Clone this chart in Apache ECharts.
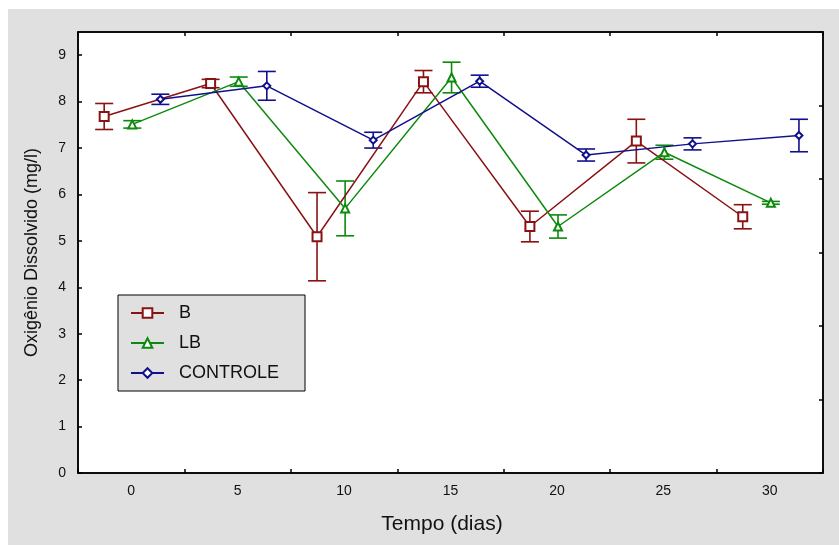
<!DOCTYPE html>
<html>
<head>
<meta charset="utf-8">
<script src="https://cdn.jsdelivr.net/npm/echarts@6/dist/echarts.min.js"></script>
<style>
html,body{margin:0;padding:0;background:#fff;}
#wrap{position:absolute;left:8px;top:9px;width:831px;height:536px;}
</style>
</head>
<body>
<div id="wrap"></div>
<script>
// ---- data ----
const days = [0, 5, 10, 15, 20, 25, 30];
const dayLabels = ['0', '5', '10', '15', '20', '25', '30'];
const yTickLabels = ['0', '1', '2', '3', '4', '5', '6', '7', '8', '9'];

const bMean   = [7.68, 8.39, 5.09, 8.43, 5.31, 7.15, 5.52];
const bErr    = [0.28, 0.09, 0.95, 0.24, 0.33, 0.47, 0.26];
const lbMean  = [7.51, 8.43, 5.70, 8.52, 5.31, 6.91, 5.82];
const lbErr   = [0.08, 0.10, 0.59, 0.33, 0.25, 0.15, 0.03];
const ctlMean = [8.05, 8.34, 7.17, 8.44, 6.85, 7.09, 7.27];
const ctlErr  = [0.11, 0.31, 0.17, 0.13, 0.13, 0.13, 0.35];

const seriesNames = ['B', 'LB', 'CONTROLE'];

// ---- styling ----
const FONT = 'Liberation Sans, Arial, sans-serif';
const colors = ['#8b1212', '#0d8a0d', '#10108c'];
const dodge = [-1.27, 0.05, 1.37];     // horizontal offset of each group (days)
const symbols = ['emptyRect', 'emptyTriangle', 'emptyDiamond'];
const symbolSizes = [9, 8, 7];

const means = [bMean, lbMean, ctlMean];
const errs = [bErr, lbErr, ctlErr];

function lineData(k) {
  return days.map((d, i) => [d + dodge[k], means[k][i]]);
}
function errData(k) {
  return days.map((d, i) => [d + dodge[k], means[k][i] - errs[k][i], means[k][i] + errs[k][i]]);
}

function makeErrSeries(k) {
  const col = colors[k];
  return {
    name: seriesNames[k] + ' err',
    type: 'custom',
    xAxisIndex: 2,
    yAxisIndex: 0,
    z: 2,
    silent: true,
    data: errData(k),
    encode: { x: 0, y: [1, 2] },
    renderItem: function (params, api) {
      const x = api.value(0);
      const lo = api.coord([x, api.value(1)]);
      const hi = api.coord([x, api.value(2)]);
      const hw = 9;
      const st = { stroke: col, lineWidth: 1.6 };
      return {
        type: 'group',
        children: [
          { type: 'line', shape: { x1: lo[0], y1: lo[1], x2: hi[0], y2: hi[1] }, style: st },
          { type: 'line', shape: { x1: lo[0] - hw, y1: lo[1], x2: lo[0] + hw, y2: lo[1] }, style: st },
          { type: 'line', shape: { x1: hi[0] - hw, y1: hi[1], x2: hi[0] + hw, y2: hi[1] }, style: st }
        ]
      };
    }
  };
}

function makeLineSeries(k) {
  return {
    name: seriesNames[k],
    type: 'line',
    xAxisIndex: 2,
    yAxisIndex: 0,
    z: 3,
    data: lineData(k),
    symbol: symbols[k],
    symbolSize: symbolSizes[k],
    color: colors[k],
    lineStyle: { color: colors[k], width: 1.5 },
    itemStyle: { color: colors[k], borderColor: colors[k], borderWidth: 1.6 },
    emphasis: { disabled: true },
    animation: false
  };
}

const chart = echarts.init(document.getElementById('wrap'), null, { renderer: 'canvas' });

const tickStyle = { show: true, inside: true, length: 4, lineStyle: { color: '#000', width: 1.5 } };

const option = {
  backgroundColor: '#e0e0e0',
  animation: false,
  textStyle: { fontFamily: FONT },
  grid: {
    left: 70, right: 16, top: 23, bottom: 72,
    show: true, backgroundColor: '#ffffff', borderColor: '#000', borderWidth: 1.5
  },
  legend: {
    orient: 'vertical',
    left: 110, top: 286,
    data: seriesNames,
    backgroundColor: '#e0e0e0',
    borderColor: '#000',
    borderWidth: 1,
    borderRadius: 0,
    padding: [9, 26, 9, 12],
    itemWidth: 33,
    itemHeight: 12,
    itemGap: 12,
    textStyle: { fontFamily: FONT, fontSize: 18, color: '#111', padding: [0, 0, 0, 10] },
    selectedMode: false
  },
  xAxis: [
    {
      type: 'category',
      data: dayLabels,
      position: 'bottom',
      boundaryGap: true,
      axisLine: { show: true, onZero: false, lineStyle: { color: '#000', width: 1.5 } },
      axisTick: Object.assign({ interval: 0, alignWithLabel: false }, tickStyle),
      axisLabel: { color: '#111', fontSize: 14, margin: 11, fontFamily: FONT, interval: 0 },
      splitLine: { show: false },
      name: 'Tempo (dias)',
      nameLocation: 'middle',
      nameGap: 41,
      nameTextStyle: { fontSize: 21, color: '#111', fontFamily: FONT, padding: [0, 17, 0, 0] }
    },
    {
      type: 'category',
      data: dayLabels,
      position: 'top',
      boundaryGap: true,
      axisLine: { show: true, onZero: false, lineStyle: { color: '#000', width: 1.5 } },
      axisTick: Object.assign({ interval: 0, alignWithLabel: false }, tickStyle),
      axisLabel: { show: false },
      splitLine: { show: false }
    },
    {
      type: 'value',
      min: -2.5,
      max: 32.5,
      show: false,
      axisLine: { onZero: false },
      splitLine: { show: false }
    }
  ],
  yAxis: [
    {
      type: 'value',
      min: 0,
      max: 9.5,
      interval: 1,
      position: 'left',
      axisLine: { show: true, onZero: false, lineStyle: { color: '#000', width: 1.5 } },
      axisTick: tickStyle,
      axisLabel: {
        color: '#111', fontSize: 14, margin: 12, fontFamily: FONT, showMaxLabel: false,
        formatter: function (v) { const i = Math.round(v); return (Math.abs(v - i) < 1e-6 && yTickLabels[i] !== undefined) ? yTickLabels[i] : ''; }
      },
      splitLine: { show: false },
      name: 'Oxigênio Dissolvido (mg/l)',
      nameLocation: 'middle',
      nameGap: 37,
      nameTextStyle: { fontSize: 18, color: '#111', fontFamily: FONT }
    },
    {
      type: 'value',
      min: 0,
      max: 9.5,
      interval: 9.5 / 6,
      position: 'right',
      axisLine: { show: true, onZero: false, lineStyle: { color: '#000', width: 1.5 } },
      axisTick: tickStyle,
      axisLabel: { show: false },
      splitLine: { show: false }
    }
  ],
  series: [
    makeErrSeries(0), makeErrSeries(1), makeErrSeries(2),
    makeLineSeries(0), makeLineSeries(1), makeLineSeries(2)
  ]
};

chart.setOption(option);
</script>
</body>
</html>
